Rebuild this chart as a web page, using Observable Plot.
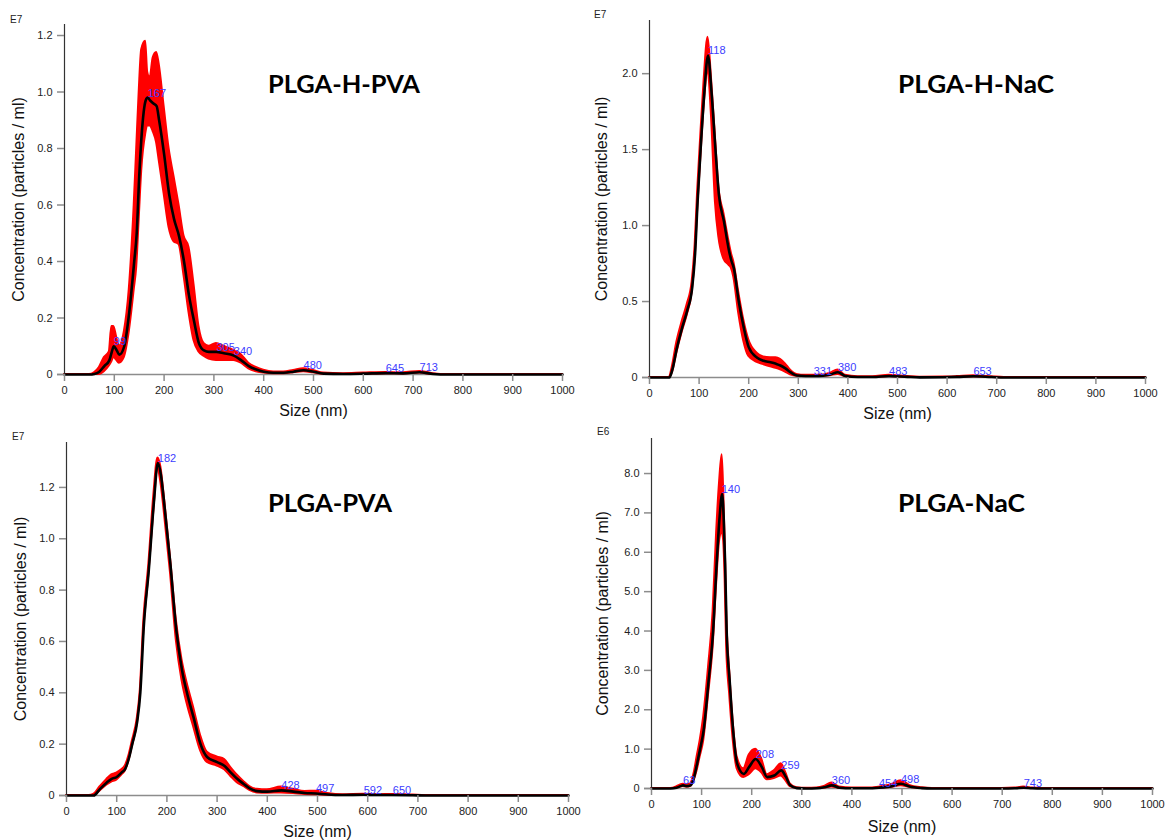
<!DOCTYPE html>
<html><head><meta charset="utf-8">
<script src="https://cdn.jsdelivr.net/npm/d3@7"></script>
<script src="https://cdn.jsdelivr.net/npm/@observablehq/plot@0.6"></script>
<style>
body{margin:0;background:#fff;}
#page{position:relative;width:1169px;height:840px;overflow:hidden;background:#fff;}
#page svg.panel{position:absolute;}
#overlay{position:absolute;left:0;top:0;pointer-events:none;}
</style></head><body><div id="page"></div>
<script>
// ---------- shared text / ticks ----------
const xTicks = [0, 100, 200, 300, 400, 500, 600, 700, 800, 900, 1000];
const xLabel = "Size (nm)";
const yLabel = "Concentration (particles / ml)";

// ---------- PLGA-H-PVA (E7) ----------
const hpvaTitle = "PLGA-H-PVA";
const hpvaExp = "E7";
const hpvaYTicks = [0, 0.2, 0.4, 0.6, 0.8, 1.0, 1.2];
const hpvaSize = [0, 50, 60, 70, 80, 90, 95, 99, 105, 110, 120, 130, 140, 145, 150, 155, 163, 167, 172, 178, 185, 190, 200, 210, 220, 230, 240, 250, 260, 270, 280, 290, 305, 320, 340, 355, 370, 385, 400, 420, 440, 460, 480, 500, 520, 560, 600, 645, 680, 713, 740, 770, 1000];
const hpvaMean = [0, 0, 0.002, 0.01, 0.03, 0.05, 0.08, 0.10, 0.085, 0.07, 0.10, 0.22, 0.40, 0.50, 0.70, 0.85, 0.97, 0.98, 0.97, 0.96, 0.95, 0.90, 0.78, 0.64, 0.55, 0.49, 0.40, 0.28, 0.19, 0.11, 0.085, 0.08, 0.08, 0.075, 0.067, 0.05, 0.03, 0.018, 0.01, 0.006, 0.006, 0.01, 0.015, 0.01, 0.003, 0.002, 0.003, 0.005, 0.004, 0.008, 0.002, 0, 0];
const hpvaLow = [0, 0, 0, 0, 0.01, 0.03, 0.045, 0.06, 0.05, 0.04, 0.06, 0.15, 0.30, 0.38, 0.55, 0.72, 0.85, 0.88, 0.88, 0.86, 0.82, 0.76, 0.64, 0.52, 0.47, 0.46, 0.35, 0.22, 0.12, 0.08, 0.065, 0.055, 0.05, 0.05, 0.05, 0.04, 0.02, 0.01, 0.005, 0.003, 0.003, 0.006, 0.01, 0.006, 0.001, 0.001, 0.001, 0.003, 0.002, 0.005, 0, 0, 0];
const hpvaHigh = [0, 0, 0.006, 0.025, 0.06, 0.08, 0.17, 0.17, 0.13, 0.10, 0.15, 0.30, 0.60, 0.80, 1.0, 1.15, 1.18, 1.07, 1.05, 1.12, 1.14, 1.10, 0.95, 0.80, 0.70, 0.60, 0.49, 0.45, 0.32, 0.17, 0.11, 0.10, 0.11, 0.10, 0.085, 0.07, 0.04, 0.025, 0.015, 0.009, 0.009, 0.014, 0.02, 0.014, 0.005, 0.003, 0.005, 0.007, 0.006, 0.011, 0.003, 0, 0];
const hpvaPeakSize = [99, 167, 305, 340, 480, 645, 713];
const hpvaPeakValue = [0.10, 0.98, 0.08, 0.067, 0.015, 0.005, 0.008];

// ---------- PLGA-H-NaC (E7) ----------
const hnacTitle = "PLGA-H-NaC";
const hnacExp = "E7";
const hnacYTicks = [0, 0.5, 1.0, 1.5, 2.0];
const hnacSize = [0, 40, 46, 55, 66, 76, 86, 92, 97, 103, 110, 118, 125, 133, 140, 150, 160, 165, 170, 180, 190, 200, 217, 230, 244, 255, 264, 274, 284, 297, 315, 331, 350, 365, 380, 395, 420, 450, 483, 520, 545, 590, 620, 653, 690, 715, 1000];
const hnacMean = [0, 0, 0.05, 0.19, 0.33, 0.44, 0.59, 0.82, 1.16, 1.5, 1.85, 2.12, 1.88, 1.5, 1.2, 1.03, 0.84, 0.77, 0.72, 0.50, 0.33, 0.20, 0.13, 0.11, 0.10, 0.09, 0.079, 0.06, 0.035, 0.013, 0.01, 0.01, 0.012, 0.02, 0.035, 0.01, 0.003, 0.003, 0.01, 0.004, 0.001, 0.002, 0.004, 0.008, 0.003, 0, 0];
const hnacLow = [0, 0, 0.03, 0.16, 0.30, 0.41, 0.56, 0.78, 1.1, 1.42, 1.78, 2.02, 1.72, 1.15, 0.92, 0.78, 0.74, 0.72, 0.66, 0.42, 0.24, 0.14, 0.10, 0.085, 0.07, 0.06, 0.05, 0.035, 0.018, 0.008, 0.006, 0.006, 0.008, 0.012, 0.02, 0.006, 0.001, 0.001, 0.006, 0.002, 0, 0.001, 0.002, 0.005, 0.001, 0, 0];
const hnacHigh = [0, 0, 0.07, 0.23, 0.37, 0.48, 0.63, 0.87, 1.22, 1.57, 1.95, 2.24, 1.97, 1.58, 1.25, 1.08, 0.9, 0.82, 0.76, 0.56, 0.38, 0.25, 0.16, 0.135, 0.13, 0.13, 0.12, 0.09, 0.05, 0.02, 0.014, 0.015, 0.016, 0.028, 0.05, 0.015, 0.005, 0.005, 0.014, 0.006, 0.002, 0.003, 0.006, 0.011, 0.005, 0, 0];
const hnacPeakSize = [118, 331, 380, 483, 653];
const hnacPeakValue = [2.12, 0.01, 0.035, 0.01, 0.008];

// ---------- PLGA-PVA (E7) ----------
const pvaTitle = "PLGA-PVA";
const pvaExp = "E7";
const pvaYTicks = [0, 0.2, 0.4, 0.6, 0.8, 1.0, 1.2];
const pvaSize = [0, 45, 54, 67, 80, 90, 100, 110, 117, 125, 131, 141, 147, 154, 164, 174, 182, 188, 194, 207, 219, 230, 240, 253, 267, 280, 300, 315, 327, 340, 353, 365, 380, 400, 428, 452, 475, 497, 520, 550, 592, 620, 650, 690, 715, 1000];
const pvaMean = [0, 0, 0, 0.026, 0.05, 0.065, 0.072, 0.09, 0.104, 0.15, 0.2, 0.29, 0.4, 0.66, 0.88, 1.14, 1.295, 1.25, 1.15, 0.9, 0.64, 0.49, 0.4, 0.305, 0.2, 0.15, 0.13, 0.115, 0.09, 0.065, 0.045, 0.028, 0.017, 0.015, 0.02, 0.015, 0.01, 0.008, 0.004, 0.002, 0.003, 0.002, 0.002, 0.001, 0, 0];
const pvaLow = [0, 0, 0, 0.018, 0.04, 0.052, 0.06, 0.08, 0.095, 0.14, 0.19, 0.28, 0.39, 0.64, 0.86, 1.11, 1.27, 1.22, 1.12, 0.87, 0.6, 0.45, 0.36, 0.27, 0.175, 0.13, 0.115, 0.1, 0.075, 0.05, 0.035, 0.02, 0.01, 0.009, 0.01, 0.008, 0.004, 0.003, 0.001, 0, 0.001, 0, 0, 0, 0, 0];
const pvaHigh = [0, 0, 0.004, 0.034, 0.062, 0.08, 0.087, 0.1, 0.115, 0.16, 0.21, 0.3, 0.41, 0.68, 0.9, 1.17, 1.315, 1.28, 1.18, 0.93, 0.68, 0.53, 0.44, 0.345, 0.235, 0.17, 0.15, 0.14, 0.11, 0.08, 0.055, 0.035, 0.024, 0.022, 0.033, 0.024, 0.016, 0.017, 0.008, 0.003, 0.005, 0.003, 0.004, 0.002, 0, 0];
const pvaPeakSize = [182, 428, 497, 592, 650];
const pvaPeakValue = [1.295, 0.02, 0.008, 0.003, 0.002];

// ---------- PLGA-NaC (E6) ----------
const nacTitle = "PLGA-NaC";
const nacExp = "E6";
const nacYTicks = [0, 1, 2, 3, 4, 5, 6, 7, 8];
const nacSize = [0, 38, 50, 58, 63, 70, 78, 85, 91, 97, 104, 114, 123, 130, 136, 141, 144, 147, 150, 156, 163, 171, 184, 195, 208, 220, 231, 245, 259, 268, 277, 290, 310, 330, 345, 360, 375, 400, 430, 454, 480, 498, 515, 540, 560, 700, 725, 743, 760, 780, 1000];
const nacMean = [0, 0, 0.02, 0.06, 0.08, 0.06, 0.08, 0.29, 0.63, 1.0, 1.47, 2.74, 4.0, 5.7, 6.9, 7.48, 6.9, 5.7, 4.0, 2.74, 1.47, 0.63, 0.37, 0.55, 0.75, 0.55, 0.29, 0.33, 0.46, 0.3, 0.08, 0.01, 0.0, 0.005, 0.03, 0.08, 0.02, 0.005, 0.005, 0.02, 0.06, 0.12, 0.05, 0.01, 0, 0, 0.005, 0.02, 0.005, 0, 0];
const nacLow = [0, 0, 0.005, 0.035, 0.05, 0.035, 0.05, 0.2, 0.45, 0.8, 1.2, 2.4, 3.6, 5.2, 6.3, 6.5, 6.3, 5.3, 3.6, 2.4, 1.25, 0.5, 0.28, 0.35, 0.5, 0.4, 0.22, 0.25, 0.32, 0.2, 0.05, 0.005, 0, 0.002, 0.01, 0.04, 0.008, 0.002, 0.002, 0.01, 0.03, 0.07, 0.03, 0.004, 0, 0, 0.002, 0.01, 0.002, 0, 0];
const nacHigh = [0, 0, 0.04, 0.09, 0.11, 0.09, 0.12, 0.38, 0.8, 1.2, 1.8, 3.1, 4.5, 6.5, 7.8, 8.48, 7.6, 6.3, 4.5, 3.0, 1.7, 0.8, 0.5, 0.85, 1.0, 0.75, 0.35, 0.45, 0.63, 0.4, 0.12, 0.02, 0.005, 0.01, 0.05, 0.14, 0.04, 0.01, 0.01, 0.035, 0.1, 0.2, 0.08, 0.02, 0, 0, 0.01, 0.035, 0.01, 0, 0];
const nacPeakSize = [63, 140, 208, 259, 360, 454, 498, 743];
const nacPeakValue = [0.08, 7.48, 0.75, 0.46, 0.08, 0.02, 0.12, 0.02];

// ---------- layout ----------
const panels = [
  {title: hpvaTitle, exp: hpvaExp, yTicks: hpvaYTicks, size: hpvaSize, mean: hpvaMean, low: hpvaLow, high: hpvaHigh, peakSize: hpvaPeakSize, peakValue: hpvaPeakValue,
   left: 0, top: 0, width: 585, height: 420, mL: 64, mR: 23, mT: 24, mB: 46, yMax: 1.239, xlDy: 36, ylDx: -45.5,
   titleX: 268, titleY: 93, titleW: 152, expX: 10, expY: 23},
  {title: hnacTitle, exp: hnacExp, yTicks: hnacYTicks, size: hnacSize, mean: hnacMean, low: hnacLow, high: hnacHigh, peakSize: hnacPeakSize, peakValue: hnacPeakValue,
   left: 585, top: 0, width: 584, height: 420, mL: 64, mR: 24, mT: 20, mB: 43, yMax: 2.35, xlDy: 36, ylDx: -48,
   titleX: 898, titleY: 93, titleW: 156, expX: 594, expY: 18},
  {title: pvaTitle, exp: pvaExp, yTicks: pvaYTicks, size: pvaSize, mean: pvaMean, low: pvaLow, high: pvaHigh, peakSize: pvaPeakSize, peakValue: pvaPeakValue,
   left: 0, top: 420, width: 585, height: 420, mL: 66, mR: 17, mT: 22, mB: 45, yMax: 1.375, xlDy: 36, ylDx: -45.5,
   titleX: 268, titleY: 512, titleW: 124, expX: 12, expY: 440},
  {title: nacTitle, exp: nacExp, yTicks: nacYTicks, size: nacSize, mean: nacMean, low: nacLow, high: nacHigh, peakSize: nacPeakSize, peakValue: nacPeakValue,
   left: 585, top: 420, width: 584, height: 420, mL: 66, mR: 17, mT: 18, mB: 52, yMax: 8.89, xlDy: 38, ylDx: -49,
   titleX: 898, titleY: 512, titleW: 127, expX: 597, expY: 435}
];

const page = document.getElementById("page");
const FONT = "'Liberation Sans', Arial, Helvetica, sans-serif";

for (const p of panels) {
  const rows = p.size.map((s, i) => ({size: s, mean: p.mean[i], low: p.low[i], high: p.high[i]}));
  const peaks = p.peakSize.map((s, i) => ({size: s, value: p.peakValue[i]}));
  const yFmt = d => d === 0 ? "0" : d.toFixed(1);
  const svg = Plot.plot({
    width: p.width, height: p.height,
    marginLeft: p.mL, marginRight: p.mR, marginTop: p.mT, marginBottom: p.mB,
    style: {fontFamily: FONT, fontSize: "11px", background: "transparent", overflow: "visible", color: "#222"},
    x: {domain: [0, 1000]},
    y: {domain: [0, p.yMax]},
    marks: [
      Plot.ruleY([0], {stroke: "#8c8c8c", strokeWidth: 1.5, insetLeft: -7}),
      Plot.areaY(rows, {x: "size", y1: "low", y2: "high", fill: "#ff0000", stroke: "#ff0000", strokeWidth: 2, curve: "monotone-x"}),
      Plot.lineY(rows, {x: "size", y: "mean", stroke: "#000", strokeWidth: 2.6, curve: "monotone-x"}),
      Plot.ruleX([0], {stroke: "#333", strokeWidth: 1.2}),
      Plot.axisX({ticks: xTicks, tickSize: 7, tickPadding: 5, stroke: "#8c8c8c", strokeWidth: 1.5, fill: "#222", label: null, tickFormat: d => String(d)}),
      Plot.axisY({ticks: p.yTicks, tickSize: 7, tickPadding: 5, stroke: "#8c8c8c", strokeWidth: 1.5, fill: "#222", label: null, tickFormat: yFmt}),
      Plot.text([xLabel], {text: d => d, frameAnchor: "bottom", textAnchor: "middle", dy: p.xlDy, fontSize: 16, fill: "#111", lineAnchor: "middle"}),
      Plot.text([yLabel], {text: d => d, frameAnchor: "left", textAnchor: "middle", dx: p.ylDx, rotate: -90, fontSize: 16, fill: "#111", lineAnchor: "middle"}),
      Plot.text(peaks, {x: "size", y: "value", text: d => String(d.size), textAnchor: "start", lineAnchor: "bottom", fill: "#3c3cff", fontSize: 11, dy: -1})
    ]
  });
  svg.classList.add("panel");
  svg.style.left = p.left + "px";
  svg.style.top = p.top + "px";
  page.appendChild(svg);
}

// titles and exponent labels
const overlay = d3.select(page).append("svg").attr("id", "overlay").attr("width", 1169).attr("height", 840);
for (const p of panels) {
  overlay.append("text").attr("x", p.titleX).attr("y", p.titleY)
    .attr("font-family", "Lato, 'Open Sans', sans-serif").attr("font-weight", 700).attr("font-size", 25)
    .attr("textLength", p.titleW).attr("lengthAdjust", "spacingAndGlyphs").attr("fill", "#000").text(p.title);
  overlay.append("text").attr("x", p.expX).attr("y", p.expY)
    .attr("font-family", FONT).attr("font-size", 10).attr("fill", "#222").text(p.exp);
}
</script>
</body></html>
